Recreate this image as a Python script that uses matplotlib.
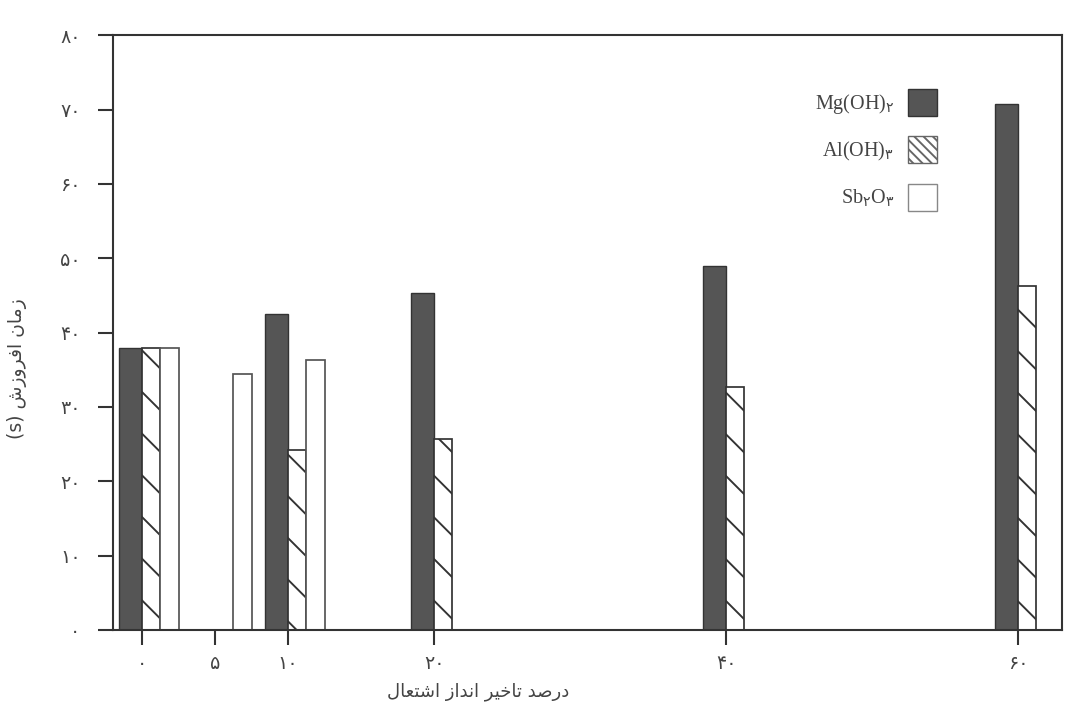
import numpy as np
import matplotlib.pyplot as plt
from matplotlib.patches import Patch

# درصد تاخیر انداز و زمان افروزش (خوانده شده از نمودار)
pct_mg = [0, 10, 20, 40, 60]
mg = [38, 42.5, 45.3, 49, 70.7]
pct_al = [0, 10, 20, 40, 60]
al = [38, 24.2, 25.7, 32.7, 46.3]
pct_sb = [0, 5, 10]
sb = [38, 34.5, 36.3]

xticks = [0, 5, 10, 20, 40, 60]
yticks = [0, 10, 20, 30, 40, 50, 60, 70, 80]
labels = ['Mg(OH)$_{\\mathrm{۲}}$', 'Al(OH)$_{\\mathrm{۳}}$', 'Sb$_{\\mathrm{۲}}$O$_{\\mathrm{۳}}$']
ylabel_txt = 'زمان افروزش'
xlabel_txt = 'درصد تاخیر انداز اشتعال'

# شکل های حروف فارسی: (تنها، پایانی، آغازی، میانی)
FORMS = {
    'ا': ('\uFE8D', '\uFE8E'), 'د': ('\uFEA9', '\uFEAA'), 'ر': ('\uFEAD', '\uFEAE'),
    'ز': ('\uFEAF', '\uFEB0'), 'و': ('\uFEED', '\uFEEE'),
    'ص': ('\uFEB9', '\uFEBA', '\uFEBB', '\uFEBC'), 'ت': ('\uFE95', '\uFE96', '\uFE97', '\uFE98'),
    'خ': ('\uFEA5', '\uFEA6', '\uFEA7', '\uFEA8'), 'ی': ('\uFEEF', '\uFEF0', '\uFEF3', '\uFEF4'),
    'ن': ('\uFEE5', '\uFEE6', '\uFEE7', '\uFEE8'), 'ش': ('\uFEB5', '\uFEB6', '\uFEB7', '\uFEB8'),
    'ع': ('\uFEC9', '\uFECA', '\uFECB', '\uFECC'), 'ل': ('\uFEDD', '\uFEDE', '\uFEDF', '\uFEE0'),
    'م': ('\uFEE1', '\uFEE2', '\uFEE3', '\uFEE4'), 'ف': ('\uFED1', '\uFED2', '\uFED3', '\uFED4'),
}


def fa(text):
    """شکل دادن ساده حروف و برگرداندن ترتیب برای رسم چپ به راست."""
    out = []
    for i, ch in enumerate(text):
        if ch not in FORMS:
            out.append(ch)
            continue
        prev = text[i - 1] if i > 0 else ''
        nxt = text[i + 1] if i + 1 < len(text) else ''
        join_prev = prev in FORMS and len(FORMS[prev]) == 4
        join_next = len(FORMS[ch]) == 4 and nxt in FORMS
        f = FORMS[ch]
        if join_prev and join_next:
            out.append(f[3])
        elif join_prev:
            out.append(f[1])
        elif join_next:
            out.append(f[2])
        else:
            out.append(f[0])
    return ''.join(out)[::-1]


def fa_num(n):
    return ''.join(chr(0x06F0 + int(d)) for d in str(n))


plt.rcParams['font.family'] = ['DejaVu Sans']
plt.rcParams['mathtext.fontset'] = 'custom'
plt.rcParams['mathtext.rm'] = 'DejaVu Sans'
plt.rcParams['mathtext.it'] = 'DejaVu Sans'
plt.rcParams['hatch.linewidth'] = 0.55
plt.rcParams['hatch.color'] = '#333333'

dark = '#555555'
edge = '#333333'
txt = '#444444'

fig = plt.figure(figsize=(1065 / 250, 707 / 250), dpi=250)
ax = fig.add_axes([0.106, 0.109, 0.891, 0.841])

w_mg, w = 1.55, 1.25
ax.bar(np.array(pct_mg) - w_mg / 2, mg, width=w_mg, color=dark, edgecolor=edge, linewidth=0.4)
ax.bar(np.array(pct_al) + w / 2, al, width=w, color='white', edgecolor=edge,
       linewidth=0.5, hatch='\\\\')
ax.bar(np.array(pct_sb) + 1.5 * w, sb, width=w, color='white', edgecolor='#555555', linewidth=0.5)

ax.set_xlim(-2.0, 63.0)
ax.set_ylim(0, 80)
ax.set_xticks(xticks)
ax.set_xticklabels([fa_num(v) for v in xticks])
ax.set_yticks(yticks)
ax.set_yticklabels([fa_num(v) for v in yticks])
ax.tick_params(axis='both', direction='out', length=4.3, width=0.6, color='#333333',
               labelsize=5.5, labelcolor=txt)
ax.tick_params(axis='y', pad=5)
ax.tick_params(axis='x', pad=2.5)
for s in ax.spines.values():
    s.set_linewidth(0.6)
    s.set_color('#333333')

ax.set_ylabel('(s) ' + fa(ylabel_txt), fontsize=5.4, color=txt)
ax.yaxis.set_label_coords(-0.09, 0.44)
ax.set_xlabel(fa(xlabel_txt), fontsize=5.2, color=txt)
ax.xaxis.set_label_coords(0.385, -0.088)

handles = [
    Patch(facecolor=dark, edgecolor=edge, linewidth=0.4),
    Patch(facecolor='white', edgecolor='#666666', linewidth=0.4, hatch='\\' * 9),
    Patch(facecolor='white', edgecolor='#888888', linewidth=0.4),
]
leg = ax.legend(handles, labels, loc='upper right', bbox_to_anchor=(0.868, 0.91),
                frameon=False, markerfirst=False, borderpad=0, borderaxespad=0,
                handlelength=1.4, handleheight=1.7, handletextpad=0.7, labelspacing=1.0,
                prop={'family': ['Liberation Serif', 'DejaVu Sans'], 'size': 5.8})
for t in leg.get_texts():
    t.set_color(txt)

fig.savefig('out.png', dpi=250)
